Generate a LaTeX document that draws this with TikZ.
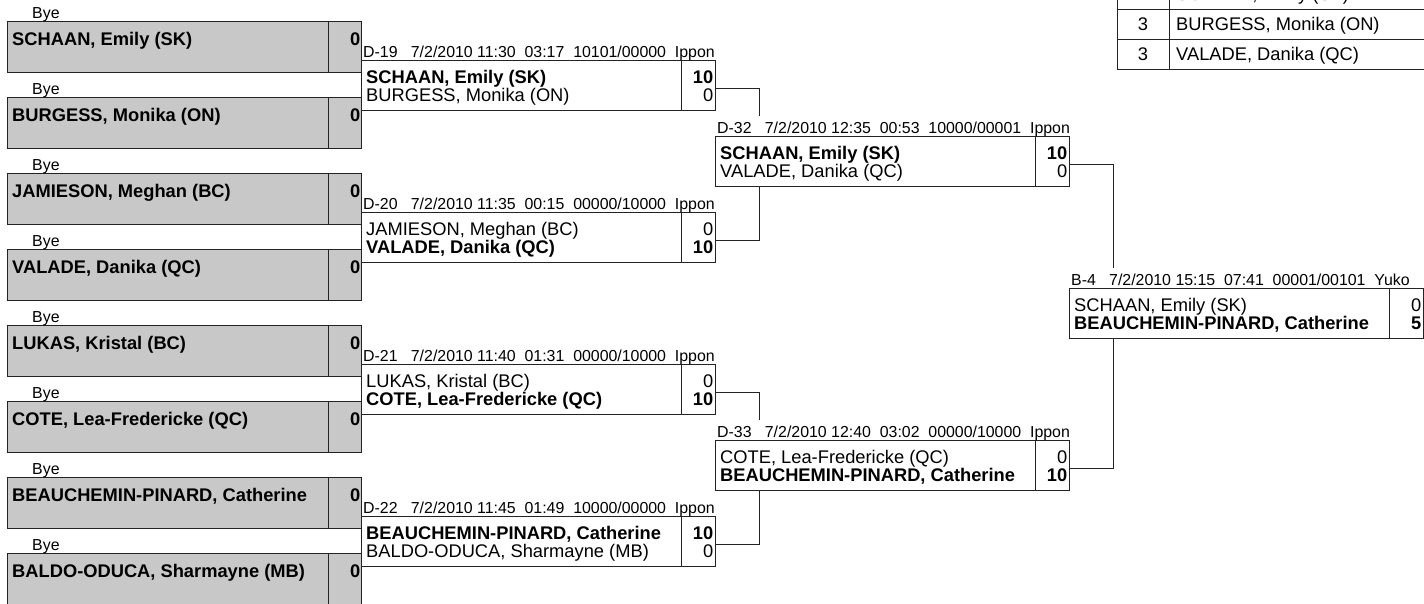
\documentclass[tikz,border=0pt]{standalone}
\usepackage{fontspec}
\setmainfont{Liberation Sans}
\usetikzlibrary{calc}
\definecolor{boxgray}{RGB}{200,200,200}
\definecolor{linec}{RGB}{35,35,35}
\tikzset{
  frame/.style={draw=linec, line width=1pt, inner sep=0pt, outer sep=0pt, anchor=north west, minimum width=354pt},
  seedbox/.style={frame, fill=boxgray, minimum height=51pt},
  matchbox/.style={frame, fill=white, minimum height=50.5pt},
  cell/.style={draw=linec, line width=1pt, inner sep=0pt, outer sep=0pt, anchor=north west, minimum height=30pt},
  nametxt/.style={anchor=base west, inner sep=0pt, font=\fontsize{18.3}{22}\selectfont},
  scoretxt/.style={anchor=base east, inner sep=0pt, font=\fontsize{18.3}{22}\selectfont},
  headtxt/.style={anchor=base west, inner sep=0pt, font=\fontsize{15.9}{18}\selectfont},
  wire/.style={draw=linec, line width=1pt},
}
% #1 node name, #2 top y, #3 player
\newcommand\seedentry[3]{%
  \node[seedbox] (#1) at (7,#2) {};
  \draw[wire] ($(#1.north west)+(321,0)$) -- ($(#1.south west)+(321,0)$);
  \node[headtxt] (#1bye) at ($(#1.north west)+(25,-3.4)$) {Bye};
  \node[nametxt] (#1n) at ($(#1.north west)+(5,23.3)$) {\bfseries #3};
  \node[scoretxt] (#1s) at ($(#1.north east)+(-0.5,23.3)$) {\bfseries 0};
}
% #1 node name, #2 x, #3 y, #4 header, #5 name1, #6 score1, #7 name2, #8 score2
\newcommand\matchentry[8]{%
  \node[matchbox] (#1) at (#2,#3) {};
  \draw[wire] ($(#1.north west)+(320,0)$) -- ($(#1.south west)+(320,0)$);
  \node[headtxt] (#1h) at ($(#1.north west)+(2,-3)$) {#4};
  \node[nametxt] (#1a) at ($(#1.north west)+(5,23)$) {#5};
  \node[scoretxt] (#1as) at ($(#1.north east)+(-1.5,23)$) {#6};
  \node[nametxt] (#1b) at ($(#1.north west)+(5,41.5)$) {#7};
  \node[scoretxt] (#1bs) at ($(#1.north east)+(-1.5,41.5)$) {#8};
}
\begin{document}
\begin{tikzpicture}[x=1pt,y=-1pt]
\useasboundingbox (0,0) rectangle (1424,603);
\clip (0,0) rectangle (1424,603);
\fill[white] (0,0) rectangle (1424,603);

% seeds (byes)
\seedentry{s1}{21.7}{SCHAAN, Emily (SK)}
\seedentry{s2}{97.7}{BURGESS, Monika (ON)}
\seedentry{s3}{173.7}{JAMIESON, Meghan (BC)}
\seedentry{s4}{249.7}{VALADE, Danika (QC)}
\seedentry{s5}{325.7}{LUKAS, Kristal (BC)}
\seedentry{s6}{401.7}{COTE, Lea-Fredericke (QC)}
\seedentry{s7}{477.7}{BEAUCHEMIN-PINARD, Catherine}
\seedentry{s8}{553.7}{BALDO-ODUCA, Sharmayne (MB)}

% round 1
\matchentry{m19}{361}{60}{D-19\ \ \ 7/2/2010 11:30\ \ 03:17\ \ 10101/00000\ \ Ippon}{\bfseries SCHAAN, Emily (SK)}{\bfseries 10}{BURGESS, Monika (ON)}{0}
\matchentry{m20}{361}{212}{D-20\ \ \ 7/2/2010 11:35\ \ 00:15\ \ 00000/10000\ \ Ippon}{JAMIESON, Meghan (BC)}{0}{\bfseries VALADE, Danika (QC)}{\bfseries 10}
\matchentry{m21}{361}{364}{D-21\ \ \ 7/2/2010 11:40\ \ 01:31\ \ 00000/10000\ \ Ippon}{LUKAS, Kristal (BC)}{0}{\bfseries COTE, Lea-Fredericke (QC)}{\bfseries 10}
\matchentry{m22}{361}{516}{D-22\ \ \ 7/2/2010 11:45\ \ 01:49\ \ 10000/00000\ \ Ippon}{\bfseries BEAUCHEMIN-PINARD, Catherine}{\bfseries 10}{BALDO-ODUCA, Sharmayne (MB)}{0}

% round 2
\matchentry{m32}{715}{136}{D-32\ \ \ 7/2/2010 12:35\ \ 00:53\ \ 10000/00001\ \ Ippon}{\bfseries SCHAAN, Emily (SK)}{\bfseries 10}{VALADE, Danika (QC)}{0}
\matchentry{m33}{715}{440}{D-33\ \ \ 7/2/2010 12:40\ \ 03:02\ \ 00000/10000\ \ Ippon}{COTE, Lea-Fredericke (QC)}{0}{\bfseries BEAUCHEMIN-PINARD, Catherine}{\bfseries 10}

% final
\matchentry{b4}{1069}{288}{B-4\ \ \ 7/2/2010 15:15\ \ 07:41\ \ 00001/00101\ \ Yuko}{SCHAAN, Emily (SK)}{0}{\bfseries BEAUCHEMIN-PINARD, Catherine}{\bfseries 5}

% connectors
\draw[wire] ($(m19.north east)+(0,28)$) -| ($(m32.north west)+(44,-20)$);
\draw[wire] ($(m20.north east)+(0,28)$) -| ($(m32.south west)+(44,0)$);
\draw[wire] ($(m21.north east)+(0,28)$) -| ($(m33.north west)+(44,-20)$);
\draw[wire] ($(m22.north east)+(0,28)$) -| ($(m33.south west)+(44,0)$);
\draw[wire] ($(m32.north east)+(0,28)$) -| ($(b4.north west)+(44,-20)$);
\draw[wire] ($(m33.north east)+(0,28)$) -| ($(b4.south west)+(44,0)$);

% ranking table (top right, partly cut)
\node[cell, minimum width=52pt] (r2) at (1117,-21) {};
\node[cell, minimum width=262pt] (n2) at (1169,-21) {};
\node[cell, minimum width=52pt] (r3a) at (1117,9) {};
\node[cell, minimum width=262pt] (n3a) at (1169,9) {};
\node[cell, minimum width=52pt] (r3b) at (1117,39) {};
\node[cell, minimum width=262pt] (n3b) at (1169,39) {};
\node[scoretxt, anchor=base] at ($(r2.south)+(0,-8.3)$) {2};
\node[nametxt] at ($(n2.south west)+(7,-8.3)$) {SCHAAN, Emily (SK)};
\node[scoretxt, anchor=base] at ($(r3a.south)+(0,-8.3)$) {3};
\node[nametxt] at ($(n3a.south west)+(7,-8.3)$) {BURGESS, Monika (ON)};
\node[scoretxt, anchor=base] at ($(r3b.south)+(0,-8.3)$) {3};
\node[nametxt] at ($(n3b.south west)+(7,-8.3)$) {VALADE, Danika (QC)};
\end{tikzpicture}
\end{document}
